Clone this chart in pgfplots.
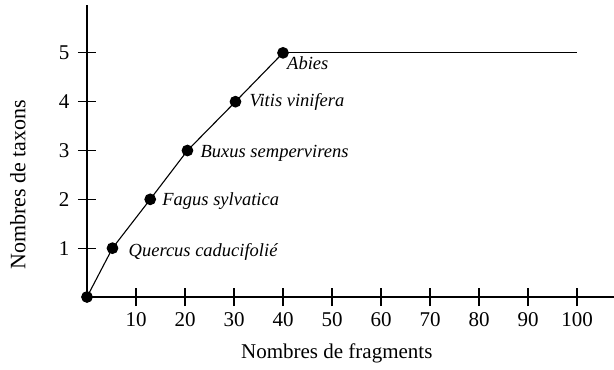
\documentclass[border=0pt]{standalone}
\usepackage{pgfplots}
\pgfplotsset{compat=1.18}
\usepackage{fontspec}
\setmainfont{Liberation Serif}
\newcommand{\tkfont}{\fontsize{21bp}{25bp}\selectfont}
\begin{document}
\begin{tikzpicture}
\begin{axis}[
  scale only axis,
  width=527bp, height=292bp,
  xmin=0, xmax=107.55,
  ymin=0, ymax=5.98,
  axis x line=bottom, axis y line=left,
  axis line style={-, line width=1.1bp},
  xtick={10,20,30,40,50,60,70,80,90,100},
  ytick={1,2,3,4,5},
  xticklabels={{\tkfont 10},{\tkfont 20},{\tkfont 30},{\tkfont 40},{\tkfont 50},{\tkfont 60},{\tkfont 70},{\tkfont 80},{\tkfont 90},{\tkfont 100}},
  yticklabels={{\tkfont 1},{\tkfont 2},{\tkfont 3},{\tkfont 4},{\tkfont 5}},
  tick align=center,
  major tick length=18bp,
  tick style={line width=1.1bp, black},
  /pgf/number format/assume math mode=true,
  tick label style={font=\tkfont},
  xticklabel style={yshift=-3.5bp},
  yticklabel style={xshift=-5bp},
  label style={font=\fontsize{21bp}{25bp}\selectfont},
  xlabel={Nombres de fragments},
  ylabel={Nombres de taxons},
  xlabel style={at={(axis description cs:0.474,-0.212)}, anchor=base},
  ylabel style={font=\fontsize{22bp}{26bp}\selectfont, at={(axis description cs:-0.131,0.384)}, anchor=center},
  clip=false,
]
\addplot[black, line width=1.1bp, mark=*, mark size=5.3bp, mark options={solid, fill=black}]
  coordinates {(0,0) (5.2,1) (12.9,2) (20.5,3) (30.3,4) (40,5)};
\addplot[black, line width=1.1bp] coordinates {(40,5) (100,5)};
\begin{scope}[every node/.style={font=\fontsize{18.5bp}{22bp}\selectfont\itshape, inner sep=0pt}]
\node[anchor=base west] at ([xshift=16bp,yshift=-8bp]axis cs:5.2,1) {Quercus caducifolié};
\node[anchor=base west] at ([xshift=12bp,yshift=-6bp]axis cs:12.9,2) {Fagus sylvatica};
\node[anchor=base west] at ([xshift=13bp,yshift=-7bp]axis cs:20.5,3) {Buxus sempervirens};
\node[anchor=base west] at ([xshift=14bp,yshift=-5bp]axis cs:30.3,4) {Vitis vinifera};
\node[anchor=base west] at ([xshift=4bp,yshift=-17bp]axis cs:40,5) {Abies};
\end{scope}
\end{axis}
\pgfresetboundingbox
\path (-87bp,-73bp) rectangle (527bp,297bp);
\end{tikzpicture}
\end{document}
